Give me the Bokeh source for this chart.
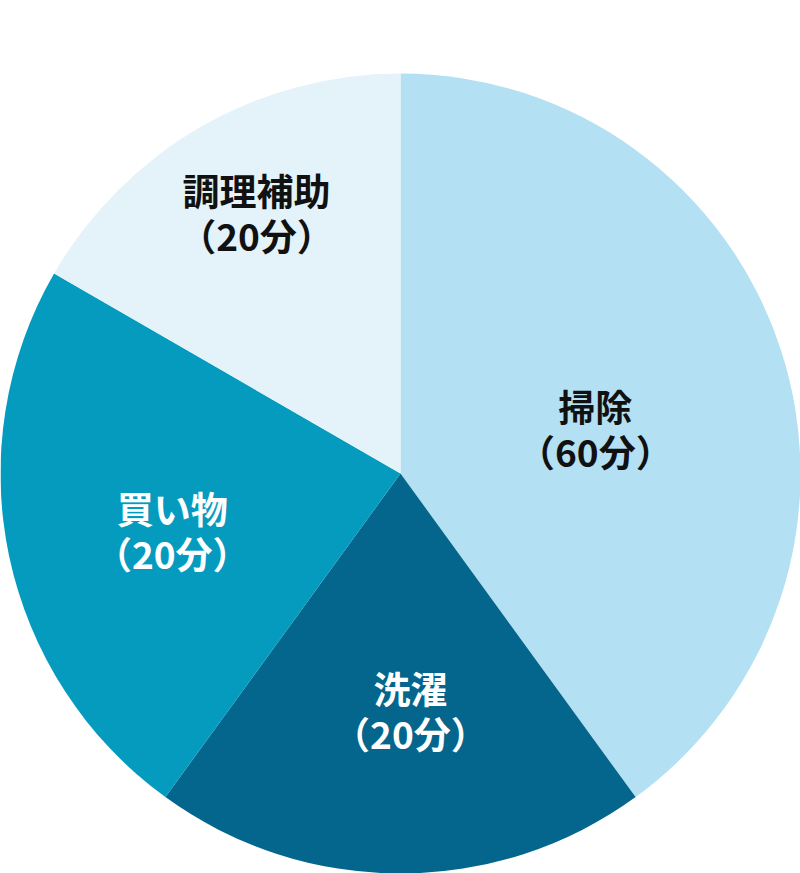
import math
from bokeh.plotting import figure
from bokeh.models import Range1d, ColumnDataSource
from bokeh.core.properties import value
from bokeh.embed import file_html
from bokeh.resources import INLINE

# ---- data ----
categories = ["掃除", "洗濯", "買い物", "調理補助"]
minute_labels = ["（60分）", "（20分）", "（20分）", "（20分）"]
slice_share = [12, 6, 7, 5]          # relative slice sizes as drawn
slice_colors = ["#b3e0f2", "#04668c", "#049bbf", "#e3f3f9"]
text_colors = ["#111111", "#ffffff", "#ffffff", "#111111"]

# ---- layout ----
W, H = 800, 873
cx, cy, R = 400, H - 473, 400
label_r = [0.50, 0.593, 0.588, 0.745]      # label distance (fraction of radius)
label_nudge_deg = [5.0, -2.4, -2.0, 1.1]   # small angular offset from slice middle

total = float(sum(slice_share))
starts, ends, mids = [], [], []
acc = 0.0
for v in slice_share:
    s = acc / total
    acc += v
    e = acc / total
    starts.append(math.pi / 2 - 2 * math.pi * s)
    ends.append(math.pi / 2 - 2 * math.pi * e)
    mids.append((s + e) / 2 * 360.0)   # degrees clockwise from top

src = ColumnDataSource(dict(x=[cx] * 4, y=[cy] * 4, start=starts, end=ends, color=slice_colors))

p = figure(width=W, height=H, output_backend="svg", toolbar_location=None,
           x_range=Range1d(0, W), y_range=Range1d(0, H), min_border=0)
p.axis.visible = False
p.grid.visible = False
p.outline_line_color = None
p.background_fill_color = "white"
p.border_fill_color = "white"

p.wedge(x="x", y="y", radius=R, start_angle="start", end_angle="end",
        direction="clock", fill_color="color", line_color=None, source=src)

lx, ly1, ly2 = [], [], []
for m, f, n in zip(mids, label_r, label_nudge_deg):
    a = math.radians(m + n)
    x = cx + R * f * math.sin(a)
    y = cy + R * f * math.cos(a)
    lx.append(x)
    ly1.append(y + 22.5)
    ly2.append(y - 22.5)

tsrc = ColumnDataSource(dict(x=lx, y1=ly1, y2=ly2, t1=categories, t2=minute_labels, c=text_colors))
for ycol, tcol in (("y1", "t1"), ("y2", "t2")):
    p.text(x="x", y=ycol, text=tcol, source=tsrc, text_color="c",
           text_font=value("Noto Sans CJK JP"), text_font_style="bold",
           text_font_size="37px", text_align="center", text_baseline="middle")

open("out.html", "w").write(file_html(p, INLINE))
